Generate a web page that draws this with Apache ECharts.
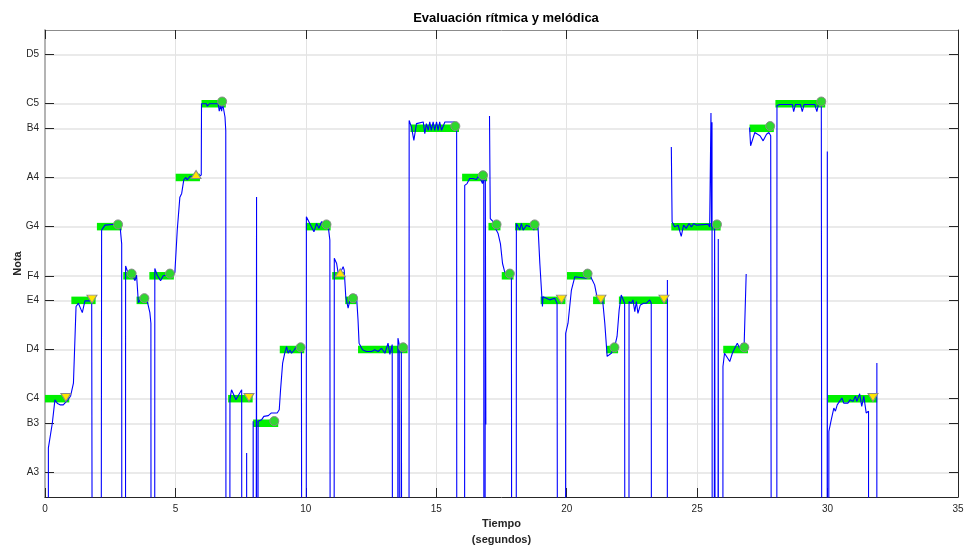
<!DOCTYPE html>
<html>
<head>
<meta charset="utf-8">
<title>Evaluación rítmica y melódica</title>
<script src="https://cdn.jsdelivr.net/npm/echarts@6/dist/echarts.min.js"></script>
<style>
  html, body { margin: 0; padding: 0; background: #fff; }
  #chart { width: 966px; height: 548px; }
</style>
</head>
<body>
<div id="chart"></div>
<script>
// etiquetas del eje Y (MIDI -> nombre de nota)
const valoresNotas = [57, 59, 60, 62, 64, 65, 67, 69, 71, 72, 74];
const nombresNotas = ['A3', 'B3', 'C4', 'D4', 'E4', 'F4', 'G4', 'A4', 'B4', 'C5', 'D5'];

// notas esperadas (barras verdes)
const notaInicio = [0.0, 1.01, 1.99, 3.0, 3.51, 4.0, 5.01, 6.0, 7.02, 7.98, 9.0, 10.0, 11.01, 11.51, 12.0,
  14.01, 15.99, 17.0, 17.51, 18.02, 19.0, 20.01, 21.01, 21.52, 22.0, 24.01, 26.0, 27.01, 28.0, 30.01];
const notaFin = [0.93, 1.94, 2.94, 3.49, 3.96, 4.94, 5.94, 6.93, 7.96, 8.94, 9.94, 10.95, 11.46, 11.94, 13.9,
  15.87, 16.95, 17.46, 17.96, 18.9, 19.95, 20.95, 21.46, 21.97, 23.88, 25.9, 26.95, 27.94, 29.91, 31.9];
const notaAltura = [60, 64, 67, 65, 64, 65, 69, 72, 60, 59, 62, 67, 65, 64, 62,
  71, 69, 67, 65, 67, 64, 65, 64, 62, 64, 67, 62, 71, 72, 60];

// marcas de evaluación: 'ok' círculo, 'baja' triángulo abajo, 'alta' triángulo arriba
const marcaTiempo = [0.80, 1.80, 2.80, 3.32, 3.81, 4.79, 5.79, 6.79, 7.82, 8.79, 9.80, 10.79, 11.32, 11.81, 13.73,
  15.73, 16.79, 17.31, 17.82, 18.77, 19.80, 20.80, 21.31, 21.83, 23.73, 25.76, 26.81, 27.80, 29.76, 31.74];
const marcaAltura = [60.05, 64.05, 67.09, 65.09, 64.09, 65.09, 69.12, 72.09, 60.05, 59.09, 62.09, 67.09, 65.12, 64.09, 62.09,
  71.09, 69.09, 67.09, 65.09, 67.09, 64.05, 65.09, 64.05, 62.09, 64.05, 67.09, 62.09, 71.09, 72.09, 60.05];
const marcaTipo = ['baja', 'baja', 'ok', 'ok', 'ok', 'ok', 'alta', 'ok', 'baja', 'ok', 'ok', 'ok', 'alta', 'ok', 'ok',
  'ok', 'ok', 'ok', 'ok', 'ok', 'baja', 'ok', 'baja', 'ok', 'baja', 'ok', 'ok', 'ok', 'ok', 'baja'];

// contorno de tono detectado (null = sin dato)
const tiempo = [
  0.12, 0.13, 0.28, 0.38, 0.48, 0.575, 0.70, 0.83, 0.98, 1.09, 1.19, 1.28, 1.43, 1.53, 1.79, 1.85, 1.89,
  2.10, 2.17, 2.21, 2.30, 2.68, 2.87, 2.94, 2.96,
  3.07, 3.09, 3.19, 3.32, 3.45, 3.51, 3.58, 3.70, 3.89, 4.02, 4.06, 4.09,
  4.19, 4.21, 4.30, 4.43, 4.53, 4.92, 4.98, 5.07, 5.17, 5.24, 5.32, 5.40, 5.45, 5.56, 5.91, 5.99,
  6.00, 6.19, 6.22, 6.30, 6.64, 6.68, 6.73, 6.77, 6.81, 6.90, 6.93, 6.96,
  7.07, 7.09, 7.15, 7.22, 7.32, 7.45, 7.54, 7.56, 7.72, 7.73, 7.74,
  7.96, 7.98, 8.02, 8.05, 8.10, 8.11, 8.12, 8.16, 8.17, 8.24, 8.30, 8.39, 8.56, 8.68, 8.90, 8.98,
  9.03, 9.11, 9.19, 9.26, 9.32, 9.39, 9.45, 9.54, 9.64, 9.83, 9.90,
  10.00, 10.02, 10.15, 10.22, 10.31, 10.41, 10.50, 10.60, 10.73, 10.79, 10.86, 10.92, 10.98,
  11.06, 11.09, 11.18, 11.24, 11.30, 11.37, 11.43, 11.47, 11.53, 11.62, 11.69, 11.81, 11.94,
  12.00, 12.04, 12.17, 12.32, 12.52, 12.64, 12.77, 12.90, 13.03, 13.15, 13.22, 13.31, 13.38,
  13.50, 13.53, 13.58, 13.60, 13.64, 13.66, 13.72, 13.74,
  13.94, 13.96, 13.98, 14.05, 14.11, 14.14, 14.20, 14.24, 14.31, 14.50, 14.56, 14.62, 14.69, 14.75,
  14.81, 14.88, 14.94, 15.01, 15.07, 15.13, 15.20, 15.33, 15.71, 15.78, 15.80,
  16.07, 16.09, 16.18, 16.28, 16.35, 16.41, 16.47, 16.54, 16.60, 16.69, 16.77, 16.82, 16.84,
  16.87, 16.88, 16.90, 16.97,
  17.04, 17.07, 17.18, 17.24, 17.31, 17.37, 17.46, 17.54, 17.62, 17.75, 17.88, 17.93,
  18.05, 18.07, 18.20, 18.26, 18.33, 18.46, 18.58, 18.69, 18.74, 18.81, 18.90, 18.97,
  19.07, 19.09, 19.22, 19.35, 19.54, 19.63, 19.69, 19.71,
  19.94, 19.96, 20.05, 20.18, 20.31, 20.37, 20.75, 20.88, 20.98, 21.07, 21.16, 21.26, 21.37, 21.46,
  21.55, 21.62, 21.71, 21.84, 21.93, 22.01, 22.09, 22.16, 22.22, 22.26,
  22.37, 22.39, 22.48, 22.54, 22.61, 22.67, 22.73, 22.82, 22.95, 23.05, 23.18, 23.24, 23.28,
  23.84, 23.86, 23.94,
  24.01, 24.04, 24.14, 24.27, 24.39, 24.48, 24.58, 24.69, 24.78, 24.87, 24.97, 25.42, 25.48,
  25.53, 25.55, 25.57, 25.60, 25.65, 25.67, 25.74, 25.76, 25.79, 25.81, 25.83,
  25.97, 25.99, 26.05, 26.12, 26.25, 26.35, 26.44, 26.54, 26.63, 26.73, 26.80, 26.87, 26.88, 26.95,
  27.01, 27.05, 27.11, 27.21, 27.41, 27.53, 27.66, 27.75, 27.82, 27.90,
  28.04, 28.06, 28.16, 28.65, 28.70, 28.77, 28.96, 29.03, 29.10, 29.51, 29.59, 29.65, 29.76, 29.82,
  29.97, 29.99, 30.00, 30.04, 30.05, 30.14, 30.24, 30.30, 30.37, 30.46, 30.55, 30.62, 30.78, 30.87,
  30.97, 31.07, 31.12, 31.23, 31.31, 31.39, 31.48, 31.57, 31.58, 31.88, 31.89
];
const tono = [
  0, 58.0, 59.0, 59.95, 59.8, 59.75, 59.75, 59.9, 60.1, 60.63, 63.75, 63.88, 63.5, 63.98, 63.98, 64.0, 0,
  0, 66.86, 66.8, 67.06, 67.1, 67.1, 66.3, 0,
  0, 65.4, 65.1, 65.1, 64.8, 65.03, 63.9, 64.1, 64.1, 63.5, 63.07, 0,
  0, 65.3, 65.03, 64.8, 65.0, 65.05, 65.15, 66.86, 68.2, 68.35, 68.9, 69.0, 68.9, 69.05, 69.05, 69.1,
  72.0, 72.0, 71.9, 72.0, 72.0, 71.7, 71.93, 71.7, 72.0, 71.46, 70.9, 0,
  0, 59.96, 60.36, 60.3, 59.96, 60.2, 60.36, 0, 0, 57.79, 0,
  0, 59.08, 59.01, 0, 0, 68.21, 0, 0, 59.08, 59.01, 59.14, 59.28, 59.31, 59.42, 59.42, 59.55,
  60.36, 61.45, 61.85, 62.12, 61.85, 61.98, 61.85, 61.96, 62.12, 62.12, 0,
  0, 67.4, 67.13, 67.2, 66.79, 67.13, 66.93, 67.2, 67.13, 67.16, 66.99, 66.45, 0,
  0, 65.71, 65.5, 65.1, 65.17, 65.23, 65.37, 65.23, 64.15, 63.68, 64.02, 64.15, 64.22,
  63.2, 62.26, 61.99, 61.92, 61.92, 61.99, 61.92, 62.05, 61.85, 62.26, 61.8, 62.2, 0,
  0, 62.46, 62.2, 0, 0, 62.1, 62.05, 0,
  0, 71.32, 71.3, 71.05, 71.02, 70.51, 70.51, 71.19, 71.26, 71.26, 70.78, 71.19, 70.92, 71.26,
  70.92, 71.26, 70.92, 71.26, 70.92, 71.26, 70.92, 71.26, 71.26, 71.1, 0,
  0, 68.68, 68.75, 68.96, 68.92, 68.96, 69.03, 68.92, 69.03, 68.96, 68.75, 69.1, 0,
  0, 68.9, 58.95, null,
  71.5, 67.33, 67.2, 66.99, 67.06, 66.72, 66.3, 65.5, 65.17, 65.03, 65.03, 0,
  0, 67.13, 66.86, 67.13, 66.86, 67.06, 67.0, 67.13, 66.86, 67.13, 66.99, 65.5,
  63.75, 64.15, 64.09, 64.02, 64.09, 63.88, 63.95, 0,
  0, 62.66, 63.07, 64.42, 64.96, 64.9, 64.9, 65.04, 64.83, 64.63, 64.15, 64.02, 64.09, 63.07,
  61.72, 61.78, 61.85, 62.12, 62.53, 63.61, 64.22, 64.22, 63.88, 0,
  0, 63.95, 63.88, 64.02, 63.54, 63.95, 63.47, 63.81, 63.88, 63.88, 64.02, 63.88, 0,
  0, 64.83, null,
  70.24, 67.2, 66.99, 67.06, 66.6, 67.06, 66.93, 67.13, 66.99, 67.13, 67.06, 67.1, 66.99,
  71.62, 67.0, 71.25, 0, 0, 67.06, 67.1, 0, 0, 66.5, 0,
  0, 61.31, 61.85, 61.92, 61.51, 61.85, 62.05, 62.26, 62.05, 62.26, 62.12, 62.2, 65.07, null,
  71.03, 70.29, 70.29, 70.83, 70.7, 70.49, 70.76, 70.83, 70.7, 0,
  0, 71.93, 71.97, 71.97, 71.68, 71.97, 71.97, 71.68, 71.97, 71.97, 71.68, 71.97, 72.0, 0,
  0, 70.06, 0, 0, 58.67, 59.14, 59.62, 59.49, 59.75, 59.89, 60.03, 59.82, 59.82, 59.96,
  59.89, 60.1, 59.89, 60.2, 59.69, 60.1, 59.42, 59.49, 0, 0, 61.45
];

const fuente = '"Liberation Sans", Arial, Helvetica, sans-serif';
const gris = '#262626';
const trianguloAbajo = 'path://M0,0 L10,0 L5,8 Z';
const trianguloArriba = 'path://M5,0 L10,8 L0,8 Z';

const chart = echarts.init(document.getElementById('chart'));

let barras = notaInicio.map((t, i) => [t, notaFin[i], notaAltura[i]]);
let contorno = tiempo.map((t, i) => [t, tono[i] === null ? '-' : tono[i]]);
let marcas = (tipo) => marcaTiempo
  .map((t, i) => [t, marcaAltura[i], marcaTipo[i]])
  .filter(d => d[2] === tipo)
  .map(d => [d[0], d[1]]);

let etiquetaNota = (v) => {
  let i = valoresNotas.indexOf(Math.round(v));
  return i >= 0 ? nombresNotas[i] : '';
};

let option = {
  animation: false,
  backgroundColor: '#fff',
  textStyle: { fontFamily: fuente },
  title: {
    text: 'Evaluación rítmica y melódica',
    left: 501,
    textAlign: 'center',
    top: 7,
    textStyle: { fontFamily: fuente, fontSize: 13, fontWeight: 'bold', color: '#000' }
  },
  grid: { left: 45, right: 8, top: 30, bottom: 51, outerBoundsMode: 'none' },
  xAxis: [{
    type: 'value',
    min: 0,
    max: 35,
    interval: 5,
    position: 'bottom',
    name: 'Tiempo\n(segundos)',
    nameLocation: 'middle',
    nameGap: 19,
    nameMoveOverlap: false,
    nameTextStyle: { fontFamily: fuente, fontSize: 11, fontWeight: 'bold', color: gris, lineHeight: 16 },
    axisLine: { onZero: false, lineStyle: { color: gris, width: 1 } },
    axisTick: { inside: true, length: 9, lineStyle: { color: gris } },
    axisLabel: { color: gris, fontSize: 10, margin: 7, fontFamily: fuente },
    splitLine: { show: true, lineStyle: { color: '#e3e3e3', width: 1 } }
  }, {
    type: 'value',
    min: 0,
    max: 35,
    interval: 5,
    position: 'top',
    axisLine: { show: true, onZero: false, lineStyle: { color: '#8c8c8c', width: 1 } },
    axisTick: { inside: true, length: 9, lineStyle: { color: gris } },
    axisLabel: { show: false },
    splitLine: { show: false }
  }],
  yAxis: [{
    type: 'value',
    min: 56,
    max: 75,
    position: 'left',
    name: 'Nota',
    nameLocation: 'middle',
    nameGap: 22,
    nameMoveOverlap: false,
    nameTextStyle: { fontFamily: fuente, fontSize: 11, fontWeight: 'bold', color: gris },
    axisLine: { show: true, onZero: false, lineStyle: { color: '#b4b4b4', width: 2 } },
    axisTick: { show: true, inside: true, length: 9, customValues: valoresNotas, lineStyle: { color: gris } },
    axisLabel: { customValues: valoresNotas, formatter: etiquetaNota, color: gris, fontSize: 10, margin: 6, fontFamily: fuente },
    splitLine: { show: true, lineStyle: { color: '#e3e3e3', width: 1.5 } }
  }, {
    type: 'value',
    min: 56,
    max: 75,
    position: 'right',
    axisLine: { show: true, onZero: false, lineStyle: { color: gris, width: 1 } },
    axisTick: { show: true, inside: true, length: 9, customValues: valoresNotas, lineStyle: { color: gris } },
    axisLabel: { show: false },
    splitLine: { show: false }
  }],
  series: [{
    name: 'Notas',
    type: 'custom',
    data: barras,
    encode: { x: [0, 1], y: 2 },
    z: 2,
    renderItem: (params, api) => {
      let p0 = api.coord([api.value(0), api.value(2)]);
      let p1 = api.coord([api.value(1), api.value(2)]);
      let h = 7.5;
      return {
        type: 'rect',
        shape: { x: p0[0], y: p0[1] - h / 2, width: p1[0] - p0[0], height: h },
        style: { fill: '#00f000' }
      };
    }
  }, {
    name: 'Tono',
    type: 'line',
    data: contorno,
    showSymbol: false,
    connectNulls: false,
    clip: true,
    z: 3,
    lineStyle: { color: '#0000ff', width: 1.1 }
  }, {
    name: 'Correcta',
    type: 'scatter',
    data: marcas('ok'),
    symbol: 'circle',
    symbolSize: 9,
    z: 4,
    itemStyle: { color: '#2ed82e', borderColor: '#8a8a8a', borderWidth: 1, opacity: 1 }
  }, {
    name: 'Baja',
    type: 'scatter',
    data: marcas('baja'),
    symbol: trianguloAbajo,
    symbolSize: [10, 8],
    z: 4,
    itemStyle: { color: '#ffe600', borderColor: '#8a8a8a', borderWidth: 1, opacity: 1 }
  }, {
    name: 'Alta',
    type: 'scatter',
    data: marcas('alta'),
    symbol: trianguloArriba,
    symbolSize: [10, 8],
    z: 4,
    itemStyle: { color: '#ffe600', borderColor: '#8a8a8a', borderWidth: 1, opacity: 1 }
  }]
};

chart.setOption(option);

window.addEventListener('resize', () => {
  chart.resize();
});
</script>
</body>
</html>
